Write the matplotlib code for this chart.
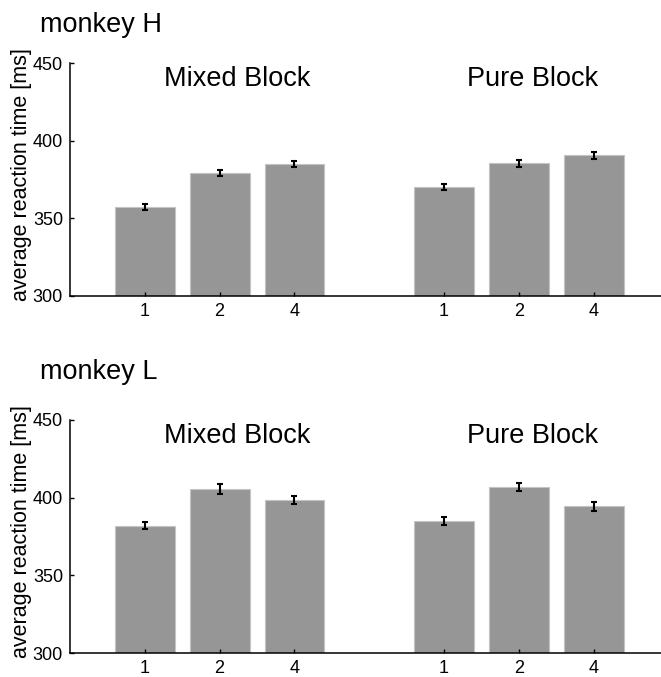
import numpy as np
import matplotlib.pyplot as plt

plt.rcParams['font.family'] = ['Liberation Sans', 'DejaVu Sans']

conditions = ['1', '2', '4']
blocks = ['Mixed Block', 'Pure Block']
monkeys = ['monkey H', 'monkey L']

# mean reaction times [ms], per monkey: mixed then pure
H_mixed = [357.5, 379.0, 385.0]
H_pure = [370.0, 385.5, 390.5]
L_mixed = [382.0, 405.5, 398.5]
L_pure = [385.0, 407.0, 394.5]

# standard errors
H_mixed_err = [2.0, 1.8, 1.8]
H_pure_err = [1.8, 2.2, 2.2]
L_mixed_err = [2.2, 3.2, 2.8]
L_pure_err = [2.8, 2.6, 2.8]

data = [(H_mixed, H_pure, H_mixed_err, H_pure_err),
        (L_mixed, L_pure, L_mixed_err, L_pure_err)]

W, H = 661, 677
fig = plt.figure(figsize=(W / 100, H / 100), dpi=100)

pos_mixed = np.array([1, 2, 3])
pos_pure = np.array([5, 6, 7])

axes_px = [(63, 296), (420, 653)]
title_base = [32, 379]

for i, (mixed, pure, emixed, epure) in enumerate(data):
    top, bot = axes_px[i]
    ax = fig.add_axes([70 / W, 1 - bot / H, 1 - 70 / W, (bot - top) / H])
    for pos, vals, errs in [(pos_mixed, mixed, emixed), (pos_pure, pure, epure)]:
        ax.bar(pos, np.array(vals) - 300, bottom=300, width=0.8, color='#969696',
               edgecolor='#c4c4c4', linewidth=0.8)
        ax.errorbar(pos, vals, yerr=errs, fmt='none', ecolor='black',
                    elinewidth=1.5, capsize=2.5, capthick=1.5)
    ax.set_ylim(300, 450)
    ax.set_xlim(0, 7.9)
    ax.set_yticks([300, 350, 400, 450])
    ax.set_xticks(np.concatenate([pos_mixed, pos_pure]))
    ax.set_xticklabels(conditions * 2)
    ax.tick_params(direction='in', length=3, width=1, labelsize=13, pad=5)
    for s in ['top', 'right']:
        ax.spines[s].set_visible(False)
    for s in ['left', 'bottom']:
        ax.spines[s].set_linewidth(1.1)
    ax.set_ylabel('average reaction time [ms]', fontsize=15.5)
    ax.yaxis.set_label_coords(-0.064, 0.52)
    ax.text(2.24, 435, blocks[0], fontsize=19.5, ha='center', va='baseline')
    ax.text(6.18, 435, blocks[1], fontsize=19.5, ha='center', va='baseline')
    fig.text(40 / W, 1 - title_base[i] / H, monkeys[i], fontsize=19.5,
             ha='left', va='baseline')

fig.savefig('out.png', dpi=100)
